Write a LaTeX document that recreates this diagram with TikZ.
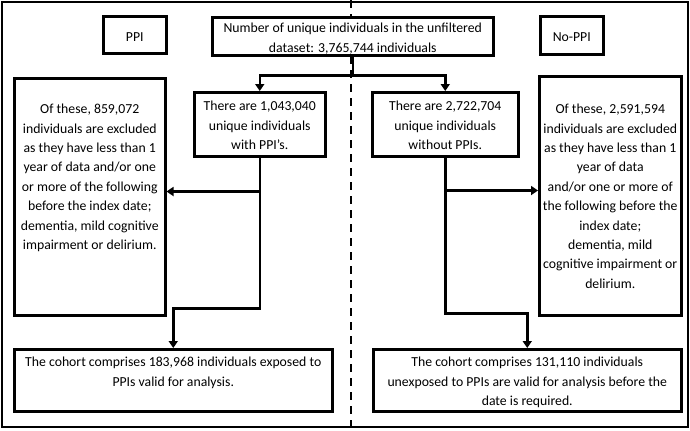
\documentclass[tikz,border=0pt]{standalone}
\usepackage{fontspec}
\setmainfont{Carlito}
\usetikzlibrary{arrows.meta}
\newlength{\px}\setlength{\px}{0.8pt}
% width, height, top gap, text (all sizes in pixels of the layout)
\newcommand{\cell}[4]{\parbox[c][#2\px][t]{#1\px}{\centering\vspace*{#3\px}#4\par}}

\begin{document}
\begin{tikzpicture}[x=\px,y=-\px,
        box/.style={draw,line width=2.5\px,fill=white,inner sep=0pt,anchor=north west,
            font=\fontsize{11}{15.5}\selectfont},
        link/.style={line width=2.5\px},
        arr/.style={link,-{Triangle[length=5.6pt,width=7.2pt]}}]
    \useasboundingbox (0,0) rectangle (690,430);
    \draw[line width=2.2\px] (2,2) rectangle (688,427);
    \draw[line width=2.5\px,dash pattern=on 8\px off 6\px] (351,0) -- (351,430);

    \node[box] (ppi) at (102,15) {\cell{63}{37}{16}{PPI}};
    \node[box] (noppi) at (539,15) {\cell{63}{38}{16}{No-PPI}};
    \node[box] (top) at (211,16) {\cell{281}{38}{6}{Number of unique individuals in the
        unfiltered\\dataset: 3,765,744 individuals}};
    \node[box] (withppi) at (193,91) {\cell{131}{64}{9}{There are 1,043,040\\unique individuals\\
        with PPI’s.}};
    \node[box] (withoutppi) at (371,91) {\cell{146}{64}{9}{There are 2,722,704\\unique individuals\\
        without PPIs.}};
    \node[box] (exclL) at (13,77) {\cell{151}{237}{26}{Of these, 859,072\\
        individuals are excluded\\as they have less than 1\\year of data and/or one\\
        or more of the following\\before the index date;\\dementia, mild cognitive\\
        impairment or delirium.}};
    \node[box] (exclR) at (538,75) {\cell{142}{239}{28}{Of these, 2,591,594\\
        individuals are excluded\\as they have less than 1\\year of data\\and/or one or more of\\
        the following before the\\index date;\\dementia, mild\\cognitive impairment or\\delirium.}};
    \node[box] (cohortL) at (13,348) {\cell{318}{62}{8}{The cohort comprises
        183,968 individuals exposed to\\PPIs valid for analysis.}};
    \node[box] (cohortR) at (372,348) {\cell{308}{62}{8}{The cohort comprises 131,110 individuals\\
        unexposed to PPIs are valid for analysis before the\\date is required.}};

    % split of the whole dataset
    \draw[link] (top.south) -- ++(0,19) coordinate (fork);
    \draw[arr] (fork) -| (withppi.north);
    \draw[arr] (fork) -| (withoutppi.north);

    % PPI side
    \draw[arr] (withppi.south) -- ++(0,151) -| (cohortL.north);
    \path (withppi.south) ++(0,34) coordinate (forkL);
    \draw[arr] (forkL) -- (forkL -| exclL.east);

    % No-PPI side
    \draw[arr] (withoutppi.south) -- ++(0,156) -| (cohortR.north);
    \path (withoutppi.south) ++(0,33) coordinate (forkR);
    \draw[arr] (forkR) -- (forkR -| exclR.west);
\end{tikzpicture}
\end{document}
